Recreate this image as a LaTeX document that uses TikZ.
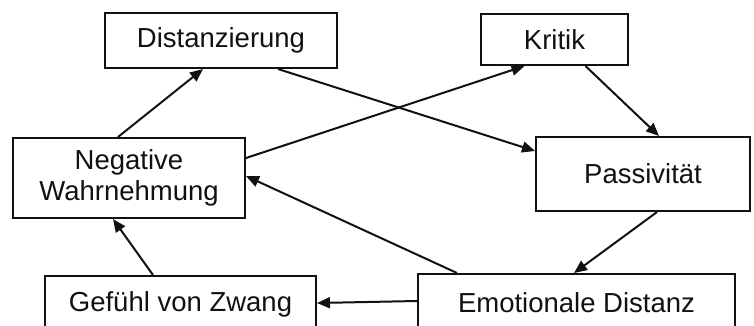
\documentclass[tikz,border=0pt]{standalone}
\usepackage{fontspec}
\setmainfont{Liberation Sans}
\usepackage{tikz}
\usetikzlibrary{arrows.meta, positioning, calc}
\definecolor{inkblack}{HTML}{111111}

\begin{document}
\begin{tikzpicture}[x=1pt, y=-1pt,
    box/.style={draw=inkblack, line width=2pt, fill=white, align=center, inner sep=0pt,
      text=inkblack, font=\fontsize{27.5}{31}\selectfont},
    link/.style={draw=inkblack, line width=2pt, -{Triangle[length=13pt, width=11pt]}}]
  % Frame of the picture
  \useasboundingbox (0,0) rectangle (754,325);
  \clip (0,0) rectangle (754,325);

  % Boxes
  \node[box, minimum width=232pt, minimum height=55pt] (dist) at (221,40.5) {Distanzierung};
  \node[box, minimum width=147pt, minimum height=51pt] (kritik) at (554.5,39.5) {Kritik};
  \node[box, minimum width=232pt, minimum height=80pt] (neg) at (129,178) {Negative\\Wahrnehmung};
  \node[box, minimum width=214pt, minimum height=74pt] (pass) at (643,174) {Passivität};
  \node[box, minimum width=271pt, minimum height=56pt] (gef) at (180.5,304) {Gefühl von Zwang};
  \node[box, minimum width=317pt, minimum height=58pt] (emo) at (576.5,303) {Emotionale Distanz};

  % Connections
  \draw[link] ([xshift=-11pt]neg.north) -- ([xshift=-18pt]dist.south);
  \draw[link] ([xshift=57pt]dist.south) -- ([yshift=23pt]pass.west);
  \draw[link] ([yshift=20pt]neg.east) -- ([xshift=-30pt]kritik.south);
  \draw[link] ([xshift=31pt]kritik.south) -- ([xshift=16pt]pass.north);
  \draw[link] ([xshift=14pt]pass.south) -- ([xshift=-2.5pt]emo.north);
  \draw[link] ([xshift=-119.5pt]emo.north) -- ([yshift=2pt]neg.east);
  \draw[link] ([yshift=2pt]emo.west) -- ([yshift=1pt]gef.east);
  \draw[link] ([xshift=-27.5pt]gef.north) -- ([xshift=-16pt]neg.south);
\end{tikzpicture}
\end{document}
